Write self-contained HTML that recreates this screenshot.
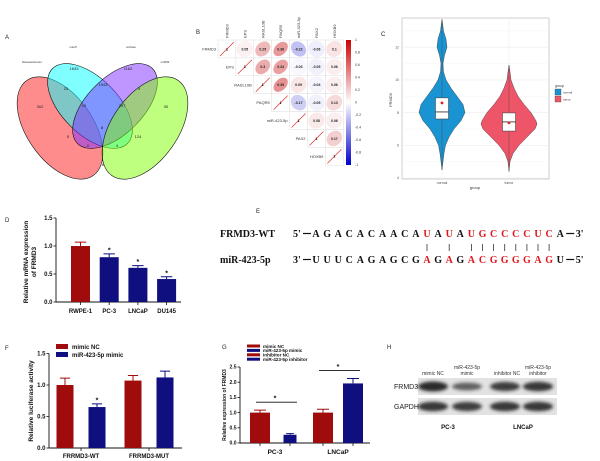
<!DOCTYPE html>
<html><head><meta charset="utf-8"><style>
html,body{margin:0;padding:0;background:#fff;}
svg{display:block;font-family:"Liberation Sans",Arial,sans-serif;}
</style></head><body>
<svg id="fig" width="600" height="461" viewBox="0 0 600 461" xmlns="http://www.w3.org/2000/svg">
<defs>
<linearGradient id="cbar" x1="0" y1="0" x2="0" y2="1">
<stop offset="0" stop-color="#cc0000"/><stop offset="0.5" stop-color="#ffffff"/><stop offset="1" stop-color="#0000cc"/>
</linearGradient>
<filter id="blur" x="-20%" y="-50%" width="140%" height="200%"><feGaussianBlur stdDeviation="1.6"/></filter>
</defs>
<g font-size="6" fill="#222">
<text x="5" y="39">A</text>
<text x="196" y="34">B</text>
<text x="381" y="36">C</text>
<text x="5" y="222">D</text>
<text x="256" y="213">E</text>
<text x="5" y="350">F</text>
<text x="222" y="349">G</text>
<text x="387" y="349">H</text>
</g>
<g id="venn"></g>
<g id="corr"></g>
<g id="violin"></g>
<g id="barD"></g>
<g id="seqE"></g>
<g id="barF"></g>
<g id="barG"></g>
<g id="blotH"></g>
</svg>
<script>
// ---------- data ----------
const vennSets=['DiseaseGenes','cutoff','surface','miR09'];
const vennCounts=[302,1633,1162,30,25,1943,5,10,297,8,5,124,0,4,8];
const corrLabels=['FRMD3','EPS','RASL10B','PAQR5','miR-423-5p','PAX2','HOXB9'];
const corrRow0=[1,0.05,0.25,0.36,-0.22,-0.06,0.1];
const corrRow1=[1,0.3,0.34,-0.03,-0.05,0.06];
const corrRow2=[1,0.39,0.09,-0.04,0.06];
const corrRow3=[1,-0.17,-0.05,0.13];
const corrRow4=[1,0.08,0.06];
const corrRow5=[1,0.17];
const corrRow6=[1];
const cbarTicks=[1,0.8,0.6,0.4,0.2,0,-0.2,-0.4,-0.6,-0.8,-1];
const violinGroups=['normal','tumor'];
const violinYTicks=[4,6,8,10,12];
const normalV=[4.5,5,5.5,6,6.5,7,7.5,8,8.5,9,9.5,10,10.5,11,11.5,12,12.5,13,13.5,13.7];
const normalW=[0,1,2,3.5,7,12,19,23,21,15,9,4,1.5,1,2.5,5,4,1.5,0.5,0];
const tumorV=[4.4,5,5.5,6,6.5,7,7.3,7.5,8,8.5,9,9.5,10,10.5,10.9];
const tumorW=[0,1,4,10,18,26,28,27,22,15,9,5,2,1,0];
const boxQ1=[7.61,6.87];
const boxMedian=[8.04,7.43];
const boxQ3=[8.9,7.98];
const boxMean=[8.59,7.37];
const dCats=['RWPE-1','PC-3','LNCaP','DU145'];
const dVals=[1.0,0.8,0.61,0.41];
const dErr=[0.07,0.06,0.04,0.04];
const dTicks=[0,0.5,1.0,1.5];
const fCats=['FRRMD3-WT','FRRMD3-MUT'];
const fNC=[1.0,1.07];
const fMimic=[0.65,1.12];
const fNCErr=[0.11,0.08];
const fMimicErr=[0.05,0.10];
const fTicks=[0,0.5,1.0,1.5];
const gCats=['PC-3','LNCaP'];
const gCtrl=[1.0,1.0];
const gTreat=[0.27,1.96];
const gCtrlErr=[0.08,0.11];
const gTreatErr=[0.04,0.16];
const gTicks=[0,0.5,1.0,1.5,2.0,2.5];
const hLanes=['mimic NC','miR-423-5p mimic','inhibitor NC','miR-423-5p inhibitor'];
const hFRMD3=[1.0,0.55,0.85,0.9];
const hGAPDH=[0.9,0.85,0.9,0.9];

const NS='http://www.w3.org/2000/svg';
function el(tag,parent){const e=document.createElementNS(NS,tag);parent.appendChild(e);return e;}
function at(e,o){for(const k in o)e.setAttribute(k,o[k]);return e;}
function tx(parent,x,y,s,o){const t=el('text',parent);at(t,Object.assign({x:x,y:y},o||{}));t.textContent=s;return t;}

// ---------- A: Venn ----------
(function(){
const g=document.getElementById('venn');
const ells=[[60,128,58,33,55,'#ff1a1a'],[90,106,53,28,45,'#00ffff'],[115,106,53,28,-45,'#7f2bff'],[145,128,58,33,-55,'#7fff00']];
ells.forEach((e,i)=>{const p=el('ellipse',g);at(p,{cx:e[0],cy:e[1],rx:e[2],ry:e[3],transform:`rotate(${e[4]} ${e[0]} ${e[1]})`,fill:e[5],'fill-opacity':0.5,stroke:'#111','stroke-width':0.6});

});
const lp=[[32,63],[73,48],[131,48],[165,63]];
vennSets.forEach((s,i)=>{const t=tx(g,lp[i][0],lp[i][1],s,{'font-size':3,'text-anchor':'middle',fill:'#333'});

});
const cp=[[40,108],[74,70],[128,70],[166,108],[66,90],[103,86],[139,90],[84,107],[122,107],[102,129],[68,138],[138,138],[88,147],[117,147],[103,166]];
vennCounts.forEach((c,i)=>{const t=tx(g,cp[i][0],cp[i][1],String(c),{'font-size':4,'text-anchor':'middle',fill:'#222'});

});
})();

// ---------- B: correlation ----------
(function(){
const g=document.getElementById('corr');
const rows=[corrRow0,corrRow1,corrRow2,corrRow3,corrRow4,corrRow5,corrRow6];
const x0=218,y0=40,s=17.9;
function col(r){const a=Math.min(1,Math.abs(r)*1.4);return r>=0?`rgb(${Math.round(255-a*45)},${Math.round(255-a*200)},${Math.round(255-a*200)})`:`rgb(${Math.round(255-a*200)},${Math.round(255-a*200)},${Math.round(255-a*40)})`;}
corrLabels.forEach((lab,j)=>{const t=tx(g,0,0,lab,{'font-size':4,fill:'#333',transform:`translate(${x0+j*s+s/2+1.5},38) rotate(-90)`});

});
rows.forEach((row,i)=>{
 const t=tx(g,x0+i*s-2,y0+i*s+s/2+1.5,corrLabels[i],{'font-size':4,'text-anchor':'end',fill:'#333'});
 
 
 row.forEach((r,k)=>{const j=i+k;const cx=x0+j*s+s/2,cy=y0+i*s+s/2;
  const c=el('rect',g);at(c,{x:x0+j*s,y:y0+i*s,width:s,height:s,fill:'#fff',stroke:'#ddd','stroke-width':0.5});
  
  
  if(k===0){const l=el('line',g);at(l,{x1:cx-7,y1:cy+7,x2:cx+7,y2:cy-7,stroke:'#d33','stroke-width':0.7});
   
   
   const tt=tx(g,cx,cy+1.3,'1',{'font-size':3.5,'text-anchor':'middle','font-weight':'bold',fill:'#000'});
   
   
  }else{
   const a=8.4,b=8.4*Math.sqrt((1-Math.abs(r))/(1+Math.abs(r)));
   const e=el('ellipse',g);at(e,{cx:cx,cy:cy,rx:a,ry:b,fill:col(r),transform:`rotate(${r>=0?-45:45} ${cx} ${cy})`});
   
   
   const tt=tx(g,cx,cy+1.3,r.toFixed(2).replace(/0+$/,'').replace(/\.$/,''),{'font-size':3.5,'text-anchor':'middle','font-weight':'bold',fill:'#222'});
   
   
  }
 });
});
const cb=el('rect',g);at(cb,{x:346,y:40,width:5,height:125,fill:'url(#cbar)'});


cbarTicks.forEach(v=>{const y=40+(1-v)/2*125;const t=tx(g,355,y+1.2,String(v),{'font-size':3.5,fill:'#333'});

});
})();

// ---------- C: violin ----------
(function(){
const g=document.getElementById('violin');
const L=402,R=549,T=18,B=179;
const yC=v=>178-(v-4)*16.35;
const xC=i=>442+i*67;
const bg=el('rect',g);at(bg,{x:L,y:T,width:R-L,height:B-T,fill:'#fff',stroke:'#bbb','stroke-width':0.7});


for(let v=4;v<=13.5;v+=1){const ln=el('line',g);at(ln,{x1:L,x2:R,y1:yC(v),y2:yC(v),stroke:'#ececec','stroke-width':v%2===0?0.6:0.3});

}
violinGroups.forEach((n,i)=>{const ln=el('line',g);at(ln,{x1:xC(i),x2:xC(i),y1:T,y2:B,stroke:'#ececec','stroke-width':0.6});

});
const profs=[[normalV,normalW,'#1a93d3'],[tumorV,tumorW,'#ef5568']];
profs.forEach((p,i)=>{const cx=xC(i);let d='';
 p[0].forEach((v,k)=>{d+=(k?'L':'M')+(cx+p[1][k])+','+yC(v);});
 for(let k=p[0].length-1;k>=0;k--)d+='L'+(cx-p[1][k])+','+yC(p[0][k]);
 const path=el('path',g);at(path,{d:d+'Z',fill:p[2],stroke:'#333','stroke-width':0.4});
 
 
 const wl=el('line',g);at(wl,{x1:cx,x2:cx,y1:yC(p[0][p[0].length-1]),y2:yC(p[0][0]),stroke:'#444','stroke-opacity':0.5,'stroke-width':0.8});
 
 
 const bx=el('rect',g);at(bx,{x:cx-6.5,y:yC(boxQ3[i]),width:13,height:yC(boxQ1[i])-yC(boxQ3[i]),fill:'#fff',stroke:'#333','stroke-width':0.5});
 
 
 const md=el('line',g);at(md,{x1:cx-6.5,x2:cx+6.5,y1:yC(boxMedian[i]),y2:yC(boxMedian[i]),stroke:'#222','stroke-width':0.8});
 
 
 const mn=el('circle',g);at(mn,{cx:cx,cy:yC(boxMean[i]),r:1.4,fill:'#e0202a'});
 
 
 const lb=tx(g,cx,184,violinGroups[i],{'font-size':3.5,'text-anchor':'middle',fill:'#555'});
 
 
});
violinYTicks.forEach(v=>{const t=tx(g,L-3,yC(v)+1.2,String(v),{'font-size':3.5,'text-anchor':'end',fill:'#555'});

});
const xt=tx(g,475,189,'group',{'font-size':4,'text-anchor':'middle',fill:'#333'});


const yt=tx(g,0,0,'FRMD3',{'font-size':4,'text-anchor':'middle',fill:'#333',transform:'translate(392,100) rotate(-90)'});


const lt=tx(g,555,87,'group',{'font-size':3.5,fill:'#333'});


['#1a93d3','#ef5568'].forEach((c,i)=>{const r=el('rect',g);at(r,{x:555,y:89+i*7,width:6,height:6,fill:c,stroke:'#333','stroke-width':0.3});


const t=tx(g,563,93.5+i*7,violinGroups[i],{'font-size':3,fill:'#333'});

});
})();

// ---------- bar helpers ----------
function axisY(g,x,yf,ticks,fs){
 fs=fs||6;
 const a=el('line',g);at(a,{x1:x,x2:x,y1:yf(ticks[ticks.length-1]),y2:yf(0),stroke:'#111','stroke-width':0.9});
 
 
 ticks.forEach(v=>{const t=el('line',g);at(t,{x1:x-2.5,x2:x,y1:yf(v),y2:yf(v),stroke:'#111','stroke-width':0.8});
 
 
 const l=tx(g,x-3.5,yf(v)+fs/3,v.toFixed(1),{'font-size':fs,'text-anchor':'end','font-weight':'bold',fill:'#111'});
 
 });
}
function bar(g,cx,w,v,e,yf,color,name){
 const r=el('rect',g);at(r,{x:cx-w/2,y:yf(v),width:w,height:yf(0)-yf(v),fill:color});
 
 
 const l=el('path',g);at(l,{d:`M${cx},${yf(v)}V${yf(v+e)}M${cx-w*0.3},${yf(v+e)}H${cx+w*0.3}`,stroke:color,'stroke-width':1,fill:'none'});
 
 
}
function star(g,x,y){const s=tx(g,x,y,'*',{'font-size':7,'text-anchor':'middle','font-weight':'bold',fill:'#111'});
 
 }
const RED='#a00b0b',BLUE='#0f0f80';

// ---------- D ----------
(function(){
const g=document.getElementById('barD');
const yD=v=>302-v*56;const xD=i=>80.5+i*28.7;
axisY(g,56,yD,dTicks);
const xa=el('line',g);at(xa,{x1:56,x2:181,y1:302,y2:302,stroke:'#111','stroke-width':0.9});


dCats.forEach((c,i)=>{bar(g,xD(i),19,dVals[i],dErr[i],yD,i===0?RED:BLUE,'bar-'+c.toLowerCase());
 const tk=el('line',g);at(tk,{x1:xD(i),x2:xD(i),y1:302,y2:305,stroke:'#111','stroke-width':0.8});
 
 
 const l=tx(g,xD(i),313,c,{'font-size':6,'text-anchor':'middle','font-weight':'bold',fill:'#111'});
 
 
 if(i>0)star(g,xD(i),yD(dVals[i]+dErr[i])-1.5);});
const t1=tx(g,0,0,'Relative mRNA expression',{'font-size':6.5,'text-anchor':'middle','font-weight':'bold',fill:'#111',transform:'translate(28,262) rotate(-90)'});


const t2=tx(g,0,0,'of FRMD3',{'font-size':6.5,'text-anchor':'middle','font-weight':'bold',fill:'#111',transform:'translate(36,262) rotate(-90)'});


})();

// ---------- E ----------
(function(){
const g=document.getElementById('seqE');
const top='AGACACAACAUAUAUGCCCCUCA',bot='UUUCAGAGCGAGAGACGGGGAGU';
const redIdx=[10,12,14,15,16,17,18,19,20,21];
const f={'font-family':'"Liberation Serif",serif','font-weight':'bold','font-size':10};
const xL=i=>316+i*11.1;
const n1=tx(g,220,237,'FRMD3-WT',Object.assign({fill:'#111'},f));


const n2=tx(g,220,263,'miR-423-5p',Object.assign({fill:'#111'},f));


[[237,"5'",top,"3'"],[263,"3'",bot,"5'"]].forEach((r,ri)=>{
 const a=tx(g,293,r[0],r[1],Object.assign({fill:'#111'},f));
 const d1=el('line',g);at(d1,{x1:303,x2:311,y1:r[0]-3.5,y2:r[0]-3.5,stroke:'#111','stroke-width':1.2});
 
 const d2=el('line',g);at(d2,{x1:xL(22)+6,x2:xL(22)+14,y1:r[0]-3.5,y2:r[0]-3.5,stroke:'#111','stroke-width':1.2});
 
 const b=tx(g,xL(22)+15.5,r[0],r[3],Object.assign({fill:'#111'},f));
 r[2].split('').forEach((ch,i)=>{const t=tx(g,xL(i),r[0],ch,Object.assign({fill:redIdx.includes(i)?'#e0161b':'#111','text-anchor':'middle'},f));
  
  });
});
redIdx.forEach(i=>{const l=el('line',g);at(l,{x1:xL(i),x2:xL(i),y1:244,y2:251,stroke:'#333','stroke-width':0.8});
 
 });
})();

// ---------- F ----------
(function(){
const g=document.getElementById('barF');
const yF=v=>448-v*63;const xF=i=>81+i*68;
axisY(g,49,yF,fTicks);
const xa=el('line',g);at(xa,{x1:49,x2:182,y1:448,y2:448,stroke:'#111','stroke-width':0.9});


fCats.forEach((c,i)=>{bar(g,xF(i)-16,17,fNC[i],fNCErr[i],yF,RED,'bar-nc-'+c.toLowerCase());
 bar(g,xF(i)+16,17,fMimic[i],fMimicErr[i],yF,BLUE,'bar-mimic-'+c.toLowerCase());
 const tk=el('line',g);at(tk,{x1:xF(i),x2:xF(i),y1:448,y2:451,stroke:'#111','stroke-width':0.8});
 
 
 const l=tx(g,xF(i),458,c,{'font-size':6,'text-anchor':'middle','font-weight':'bold',fill:'#111'});
 
 });
star(g,xF(0)+16,yF(fMimic[0]+fMimicErr[0])-1.5);
const yt=tx(g,0,0,'Relative luciferase activity',{'font-size':6.5,'text-anchor':'middle','font-weight':'bold',fill:'#111',transform:'translate(33,401) rotate(-90)'});


[['mimic NC',RED],['miR-423-5p mimic',BLUE]].forEach((e,i)=>{const r=el('rect',g);at(r,{x:56,y:344+i*8,width:12,height:5,fill:e[1]});


const t=tx(g,72,349+i*8,e[0],{'font-size':6,'font-weight':'bold',fill:'#111'});

});
})();

// ---------- G ----------
(function(){
const g=document.getElementById('barG');
const yG=v=>443-v*30.4;const xG=i=>275+i*63;
axisY(g,240,yG,gTicks,5);
const xa=el('line',g);at(xa,{x1:240,x2:370,y1:443,y2:443,stroke:'#111','stroke-width':0.9});


gCats.forEach((c,i)=>{bar(g,xG(i)-15,20,gCtrl[i],gCtrlErr[i],yG,RED,'bar-ctrl-'+c.toLowerCase());
 bar(g,xG(i)+15,i===0?13:20,gTreat[i],gTreatErr[i],yG,BLUE,'bar-treat-'+c.toLowerCase());
 [-15,15].forEach(o=>{const tk=el('line',g);at(tk,{x1:xG(i)+o,x2:xG(i)+o,y1:443,y2:446,stroke:'#111','stroke-width':0.8});
 
 });
 const l=tx(g,xG(i),454,c,{'font-size':6.5,'text-anchor':'middle','font-weight':'bold',fill:'#111'});
 
 
 const top=Math.max(gCtrl[i]+gCtrlErr[i],gTreat[i]+gTreatErr[i]);
 const sl=el('line',g);at(sl,{x1:xG(i)-19,x2:xG(i)+22,y1:yG(top)-8,y2:yG(top)-8,stroke:'#111','stroke-width':0.8});
 
 
 star(g,xG(i),yG(top)-9.5);});
const yt=tx(g,0,0,'Relative expression of FRMD3',{'font-size':5,'text-anchor':'middle','font-weight':'bold',fill:'#111',transform:'translate(226,405) rotate(-90)'});


[['mimic NC',RED],['miR-423-5p mimic',BLUE],['inhibitor NC',RED],['miR-423-5p inhibitor',BLUE]].forEach((e,i)=>{const r=el('rect',g);at(r,{x:247,y:344.5+i*4.4,width:13,height:3,fill:e[1]});


const t=tx(g,263,347.8+i*4.4,e[0],{'font-size':4.6,'font-weight':'bold',fill:'#111'});

});
})();

// ---------- H ----------
(function(){
const g=document.getElementById('blotH');
const xs=[433,467,505,538];
[[378,hFRMD3,'FRMD3'],[398,hGAPDH,'GAPDH']].forEach(r=>{
 const bg=el('rect',g);at(bg,{x:418,y:r[0],width:139,height:17,fill:'#e2e2e2'});
 
 
 r[1].forEach((v,i)=>{const b=el('ellipse',g);at(b,{cx:xs[i],cy:r[0]+8.5,rx:15,ry:2.5+v*2.5,fill:'#1a1a1a','fill-opacity':0.35+v*0.55,filter:'url(#blur)'});
  
  });
 const l=tx(g,394,r[0]+11,r[2],{'font-size':7,fill:'#222'});
 
 
});
const lanes=[[433,['mimic NC']],[467,['miR-423-5p','mimic']],[507,['inhibitor NC']],[538,['miR-423-5p','inhibitor']]];
lanes.forEach(l=>{const n=l[1].length;l[1].forEach((s,k)=>{const t=tx(g,l[0],376-(n-1-k)*6-1,s,{'font-size':5,'text-anchor':'middle',fill:'#333'});
 
 });});
[[448,'PC-3'],[523,'LNCaP']].forEach(c=>{const t=tx(g,c[0],429,c[1],{'font-size':6,'text-anchor':'middle','font-weight':'bold',fill:'#111'});
 
 });
})();
</script>
</body></html>
